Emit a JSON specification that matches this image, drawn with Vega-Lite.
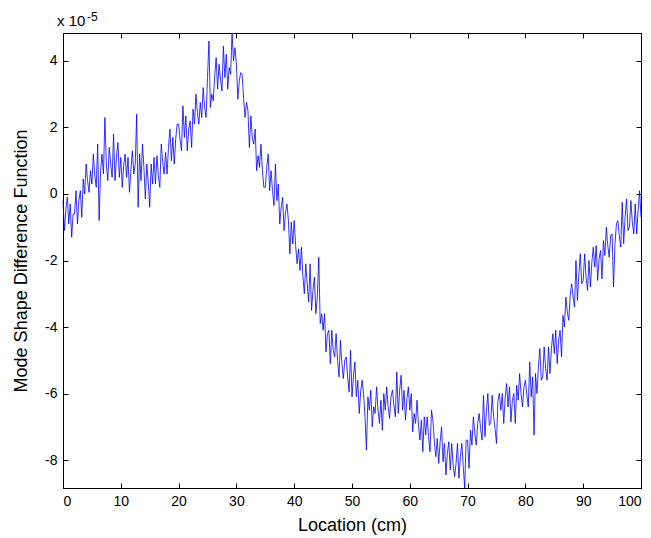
{
"$schema": "https://vega.github.io/schema/vega-lite/v6.json",
"width": 578,
"height": 455,
"autosize": {"type": "none"},
"padding": {"left": 63, "top": 33, "right": 10, "bottom": 50},
"background": "white",
"config": {
  "view": {"stroke": "black", "strokeWidth": 1},
  "axis": {"domainColor": "black", "tickColor": "black", "labelColor": "black", "titleColor": "black", "labelFont": "Liberation Sans", "titleFont": "Liberation Sans", "labelFontSize": 14, "titleFontSize": 18, "titleFontWeight": "normal", "grid": false, "tickSize": -5, "labelPadding": 11, "labelExpr": "replace(datum.label, '−', '-')"}
},
"layer": [
  {
    "data": {"values": [
{"x":0,"y":-0.2},{"x":0.25,"y":-1.1},{"x":0.5,"y":-0.45},{"x":0.75,"y":-0.1},
{"x":1,"y":-0.9},{"x":1.25,"y":-0.3},{"x":1.5,"y":-1.3},{"x":1.75,"y":-0.6},
{"x":2,"y":-0.6},{"x":2.25,"y":0.1},{"x":2.5,"y":-0.9},{"x":2.75,"y":-0.2},
{"x":3,"y":0.1},{"x":3.25,"y":-0.7},{"x":3.5,"y":0.45},{"x":3.75,"y":0.0},
{"x":4,"y":0.9},{"x":4.25,"y":0.4},{"x":4.5,"y":0.05},{"x":4.75,"y":0.7},
{"x":5,"y":0.3},{"x":5.25,"y":1.2},{"x":5.5,"y":0.55},{"x":5.75,"y":0.2},
{"x":6,"y":1.5},{"x":6.25,"y":-0.8},{"x":6.5,"y":0.7},{"x":6.75,"y":1.2},
{"x":7,"y":0.6},{"x":7.25,"y":2.3},{"x":7.5,"y":0.9},{"x":7.75,"y":0.4},
{"x":8,"y":1.4},{"x":8.25,"y":0.9},{"x":8.5,"y":0.5},{"x":8.75,"y":1.8},
{"x":9,"y":0.4},{"x":9.25,"y":1.1},{"x":9.5,"y":1.55},{"x":9.75,"y":0.5},
{"x":10,"y":1.1},{"x":10.25,"y":0.2},{"x":10.5,"y":0.85},{"x":10.75,"y":1.2},
{"x":11,"y":0.5},{"x":11.25,"y":1.1},{"x":11.5,"y":0.05},{"x":11.75,"y":0.7},
{"x":12,"y":1.3},{"x":12.25,"y":0.6},{"x":12.5,"y":0.9},{"x":12.75,"y":2.4},
{"x":13,"y":-0.4},{"x":13.25,"y":1.2},{"x":13.5,"y":0.4},{"x":13.75,"y":1.5},
{"x":14,"y":0.8},{"x":14.25,"y":-0.15},{"x":14.5,"y":0.9},{"x":14.75,"y":0.35},
{"x":15,"y":-0.4},{"x":15.25,"y":0.9},{"x":15.5,"y":0.3},{"x":15.75,"y":1.1},
{"x":16,"y":0.3},{"x":16.25,"y":1.15},{"x":16.5,"y":0.55},{"x":16.75,"y":0.2},
{"x":17,"y":1.5},{"x":17.25,"y":0.95},{"x":17.5,"y":0.6},{"x":17.75,"y":1.25},
{"x":18,"y":0.6},{"x":18.25,"y":1.4},{"x":18.5,"y":1.95},{"x":18.75,"y":1.0},
{"x":19,"y":1.7},{"x":19.25,"y":0.9},{"x":19.5,"y":1.65},{"x":19.75,"y":2.1},
{"x":20,"y":2.1},{"x":20.25,"y":1.65},{"x":20.5,"y":1.3},{"x":20.75,"y":2.65},
{"x":21,"y":1.7},{"x":21.25,"y":2.35},{"x":21.5,"y":1.3},{"x":21.75,"y":1.95},
{"x":22,"y":2.2},{"x":22.25,"y":1.4},{"x":22.5,"y":2.55},{"x":22.75,"y":2.1},
{"x":23,"y":3.0},{"x":23.25,"y":2.45},{"x":23.5,"y":2.1},{"x":23.75,"y":2.75},
{"x":24,"y":2.3},{"x":24.25,"y":3.2},{"x":24.5,"y":2.6},{"x":24.75,"y":2.3},
{"x":25,"y":3.5},{"x":25.25,"y":4.6},{"x":25.5,"y":2.6},{"x":25.75,"y":3.0},
{"x":26,"y":2.8},{"x":26.25,"y":3.55},{"x":26.5,"y":4.1},{"x":26.75,"y":3.15},
{"x":27,"y":3.9},{"x":27.25,"y":3.45},{"x":27.5,"y":3.1},{"x":27.75,"y":4.45},
{"x":28,"y":3.5},{"x":28.25,"y":4.2},{"x":28.5,"y":3.15},{"x":28.75,"y":3.8},
{"x":29,"y":3.6},{"x":29.25,"y":4.84},{"x":29.5,"y":4.0},{"x":29.75,"y":4.4},
{"x":30,"y":3.9},{"x":30.25,"y":2.85},{"x":30.5,"y":3.4},{"x":30.75,"y":3.65},
{"x":31,"y":3.6},{"x":31.25,"y":2.85},{"x":31.5,"y":2.3},{"x":31.75,"y":2.75},
{"x":32,"y":2.5},{"x":32.25,"y":1.4},{"x":32.5,"y":2.35},{"x":32.75,"y":1.7},
{"x":33,"y":1.5},{"x":33.25,"y":1.95},{"x":33.5,"y":0.7},{"x":33.75,"y":1.15},
{"x":34,"y":0.8},{"x":34.25,"y":1.5},{"x":34.5,"y":0.7},{"x":34.75,"y":0.2},
{"x":35,"y":0.2},{"x":35.25,"y":0.8},{"x":35.5,"y":1.2},{"x":35.75,"y":0.1},
{"x":36,"y":0.7},{"x":36.25,"y":0.1},{"x":36.5,"y":-0.35},{"x":36.75,"y":0.9},
{"x":37,"y":-0.2},{"x":37.25,"y":0.3},{"x":37.5,"y":-0.9},{"x":37.75,"y":-0.4},
{"x":38,"y":-0.1},{"x":38.25,"y":-1.1},{"x":38.5,"y":-0.55},{"x":38.75,"y":-0.3},
{"x":39,"y":-0.8},{"x":39.25,"y":-1.8},{"x":39.5,"y":-0.85},{"x":39.75,"y":-1.5},
{"x":40,"y":-0.8},{"x":40.25,"y":-1.55},{"x":40.5,"y":-2.1},{"x":40.75,"y":-1.65},
{"x":41,"y":-2.3},{"x":41.25,"y":-1.6},{"x":41.5,"y":-2.45},{"x":41.75,"y":-3.0},
{"x":42,"y":-2.1},{"x":42.25,"y":-2.7},{"x":42.5,"y":-3.25},{"x":42.75,"y":-2.1},
{"x":43,"y":-3.5},{"x":43.25,"y":-2.9},{"x":43.5,"y":-2.5},{"x":43.75,"y":-3.6},
{"x":44,"y":-3.1},{"x":44.25,"y":-1.9},{"x":44.5,"y":-3.9},{"x":44.75,"y":-3.6},
{"x":45,"y":-4.1},{"x":45.25,"y":-3.6},{"x":45.5,"y":-4.75},{"x":45.75,"y":-4.2},
{"x":46,"y":-4.1},{"x":46.25,"y":-5.1},{"x":46.5,"y":-4.1},{"x":46.75,"y":-4.7},
{"x":47,"y":-4.9},{"x":47.25,"y":-4.2},{"x":47.5,"y":-5.0},{"x":47.75,"y":-5.5},
{"x":48,"y":-4.4},{"x":48.25,"y":-5.1},{"x":48.5,"y":-5.55},{"x":48.75,"y":-5.0},
{"x":49,"y":-4.9},{"x":49.25,"y":-5.5},{"x":49.5,"y":-5.95},{"x":49.75,"y":-4.7},
{"x":50,"y":-6.1},{"x":50.25,"y":-5.5},{"x":50.5,"y":-5.05},{"x":50.75,"y":-6.1},
{"x":51,"y":-5.6},{"x":51.25,"y":-6.6},{"x":51.5,"y":-5.95},{"x":51.75,"y":-5.6},
{"x":52,"y":-6.0},{"x":52.25,"y":-6.7},{"x":52.5,"y":-7.7},{"x":52.75,"y":-6.1},
{"x":53,"y":-6.5},{"x":53.25,"y":-5.9},{"x":53.5,"y":-7.0},{"x":53.75,"y":-6.4},
{"x":54,"y":-6.6},{"x":54.25,"y":-5.8},{"x":54.5,"y":-6.5},{"x":54.75,"y":-6.9},
{"x":55,"y":-6.2},{"x":55.25,"y":-7.1},{"x":55.5,"y":-6.0},{"x":55.75,"y":-6.5},
{"x":56,"y":-5.8},{"x":56.25,"y":-6.4},{"x":56.5,"y":-6.75},{"x":56.75,"y":-6.1},
{"x":57,"y":-5.9},{"x":57.25,"y":-6.35},{"x":57.5,"y":-6.7},{"x":57.75,"y":-5.35},
{"x":58,"y":-6.6},{"x":58.25,"y":-5.9},{"x":58.5,"y":-5.45},{"x":58.75,"y":-6.5},
{"x":59,"y":-5.9},{"x":59.25,"y":-6.8},{"x":59.5,"y":-6.15},{"x":59.75,"y":-5.8},
{"x":60,"y":-6.5},{"x":60.25,"y":-6.0},{"x":60.5,"y":-7.15},{"x":60.75,"y":-6.6},
{"x":61,"y":-6.9},{"x":61.25,"y":-6.2},{"x":61.5,"y":-6.95},{"x":61.75,"y":-7.4},
{"x":62,"y":-6.8},{"x":62.25,"y":-7.75},{"x":62.5,"y":-6.7},{"x":62.75,"y":-7.25},
{"x":63,"y":-6.7},{"x":63.25,"y":-7.3},{"x":63.5,"y":-7.75},{"x":63.75,"y":-6.5},
{"x":64,"y":-6.8},{"x":64.25,"y":-7.45},{"x":64.5,"y":-7.9},{"x":64.75,"y":-7.35},
{"x":65,"y":-8.1},{"x":65.25,"y":-7.45},{"x":65.5,"y":-7.0},{"x":65.75,"y":-8.05},
{"x":66,"y":-7.5},{"x":66.25,"y":-8.45},{"x":66.5,"y":-7.8},{"x":66.75,"y":-7.45},
{"x":67,"y":-8.3},{"x":67.25,"y":-7.5},{"x":67.5,"y":-8.15},{"x":67.75,"y":-8.5},
{"x":68,"y":-8.1},{"x":68.25,"y":-7.5},{"x":68.5,"y":-8.55},{"x":68.75,"y":-7.9},
{"x":69,"y":-7.5},{"x":69.25,"y":-8.2},{"x":69.5,"y":-8.84},{"x":69.75,"y":-7.4},
{"x":70,"y":-7.4},{"x":70.25,"y":-8.25},{"x":70.5,"y":-7.1},{"x":70.75,"y":-7.55},
{"x":71,"y":-6.7},{"x":71.25,"y":-7.2},{"x":71.5,"y":-7.55},{"x":71.75,"y":-6.9},
{"x":72,"y":-6.6},{"x":72.25,"y":-7.05},{"x":72.5,"y":-7.4},{"x":72.75,"y":-6.05},
{"x":73,"y":-7.3},{"x":73.25,"y":-6.55},{"x":73.5,"y":-6.0},{"x":73.75,"y":-6.95},
{"x":74,"y":-6.9},{"x":74.25,"y":-6.05},{"x":74.5,"y":-6.7},{"x":74.75,"y":-7.05},
{"x":75,"y":-7.5},{"x":75.25,"y":-6.2},{"x":75.5,"y":-6.0},{"x":75.75,"y":-6.5},
{"x":76,"y":-6.0},{"x":76.25,"y":-6.9},{"x":76.5,"y":-6.15},{"x":76.75,"y":-5.7},
{"x":77,"y":-6.4},{"x":77.25,"y":-5.8},{"x":77.5,"y":-6.85},{"x":77.75,"y":-6.2},
{"x":78,"y":-6.0},{"x":78.25,"y":-6.9},{"x":78.5,"y":-5.75},{"x":78.75,"y":-6.2},
{"x":79,"y":-5.4},{"x":79.25,"y":-6.0},{"x":79.5,"y":-6.4},{"x":79.75,"y":-5.8},
{"x":80,"y":-5.6},{"x":80.25,"y":-6.05},{"x":80.5,"y":-6.4},{"x":80.75,"y":-5.05},
{"x":81,"y":-6.1},{"x":81.25,"y":-5.5},{"x":81.5,"y":-7.25},{"x":81.75,"y":-5.4},
{"x":82,"y":-6.0},{"x":82.25,"y":-5.2},{"x":82.5,"y":-4.65},{"x":82.75,"y":-5.6},
{"x":83,"y":-5.5},{"x":83.25,"y":-4.6},{"x":83.5,"y":-5.25},{"x":83.75,"y":-5.6},
{"x":84,"y":-4.6},{"x":84.25,"y":-5.4},{"x":84.5,"y":-4.65},{"x":84.75,"y":-4.2},
{"x":85,"y":-4.8},{"x":85.25,"y":-4.1},{"x":85.5,"y":-5.1},{"x":85.75,"y":-4.4},
{"x":86,"y":-4.1},{"x":86.25,"y":-4.9},{"x":86.5,"y":-3.65},{"x":86.75,"y":-4.0},
{"x":87,"y":-3.1},{"x":87.25,"y":-3.55},{"x":87.5,"y":-3.8},{"x":87.75,"y":-3.05},
{"x":88,"y":-2.7},{"x":88.25,"y":-3.1},{"x":88.5,"y":-3.4},{"x":88.75,"y":-2.0},
{"x":89,"y":-3.2},{"x":89.25,"y":-2.4},{"x":89.5,"y":-1.8},{"x":89.75,"y":-2.7},
{"x":90,"y":-2.6},{"x":90.25,"y":-1.8},{"x":90.5,"y":-2.5},{"x":90.75,"y":-2.9},
{"x":91,"y":-2.0},{"x":91.25,"y":-2.8},{"x":91.5,"y":-2.05},{"x":91.75,"y":-1.6},
{"x":92,"y":-2.2},{"x":92.25,"y":-1.55},{"x":92.5,"y":-2.6},{"x":92.75,"y":-1.95},
{"x":93,"y":-1.7},{"x":93.25,"y":-2.55},{"x":93.5,"y":-1.4},{"x":93.75,"y":-1.85},
{"x":94,"y":-1.0},{"x":94.25,"y":-1.55},{"x":94.5,"y":-1.9},{"x":94.75,"y":-1.25},
{"x":95,"y":-1.2},{"x":95.25,"y":-2.8},{"x":95.5,"y":-1.5},{"x":95.75,"y":-0.9},
{"x":96,"y":-0.8},{"x":96.25,"y":-1.25},{"x":96.5,"y":-1.6},{"x":96.75,"y":-0.25},
{"x":97,"y":-1.5},{"x":97.25,"y":-0.7},{"x":97.5,"y":-0.15},{"x":97.75,"y":-1.1},
{"x":98,"y":-1.0},{"x":98.25,"y":-0.2},{"x":98.5,"y":-0.85},{"x":98.75,"y":-1.2},
{"x":99,"y":-0.3},{"x":99.25,"y":-1.2},{"x":99.5,"y":-0.5},{"x":99.75,"y":0.1},
{"x":100,"y":-0.7}
    ]},
    "layer": [
      {
        "mark": {"type": "line", "color": "#0000ff", "strokeWidth": 0.8},
        "encoding": {
          "x": {"field": "x", "type": "quantitative", "scale": {"domain": [0, 100], "nice": false, "zero": false},
                "axis": {"orient": "bottom", "values": [0,10,20,30,40,50,60,70,80,90,100], "title": "Location (cm)", "titlePadding": 8}},
          "y": {"field": "y", "type": "quantitative", "scale": {"domain": [-8.84, 4.84], "nice": false, "zero": false},
                "axis": {"orient": "left", "values": [-8,-6,-4,-2,0,2,4], "title": "Mode Shape Difference Function", "titlePadding": 14}}
        }
      },
      {
        "mark": {"type": "line", "strokeOpacity": 0},
        "encoding": {
          "x": {"field": "x", "type": "quantitative", "axis": {"orient": "top", "values": [0,10,20,30,40,50,60,70,80,90,100], "labels": false, "title": null}},
          "y": {"field": "y", "type": "quantitative", "axis": {"orient": "right", "values": [-8,-6,-4,-2,0,2,4], "labels": false, "title": null}}
        }
      }
    ],
    "resolve": {"axis": {"x": "independent", "y": "independent"}}
  },
  {
    "data": {"values": [{"label": "x 10"}]},
    "mark": {"type": "text", "align": "left", "baseline": "alphabetic", "dx": -6, "dy": -7, "fontSize": 15, "font": "Liberation Sans", "fill": "black"},
    "encoding": {
      "text": {"field": "label"},
      "x": {"datum": 0, "type": "quantitative", "axis": null},
      "y": {"datum": 4.84, "type": "quantitative", "axis": null}
    }
  },
  {
    "data": {"values": [{"label": "-5"}]},
    "mark": {"type": "text", "align": "left", "baseline": "alphabetic", "dx": 24, "dy": -12, "fontSize": 12, "font": "Liberation Sans", "fill": "black"},
    "encoding": {
      "text": {"field": "label"},
      "x": {"datum": 0, "type": "quantitative", "axis": null},
      "y": {"datum": 4.84, "type": "quantitative", "axis": null}
    }
  }
],
"resolve": {"axis": {"x": "independent", "y": "independent"}}
}
